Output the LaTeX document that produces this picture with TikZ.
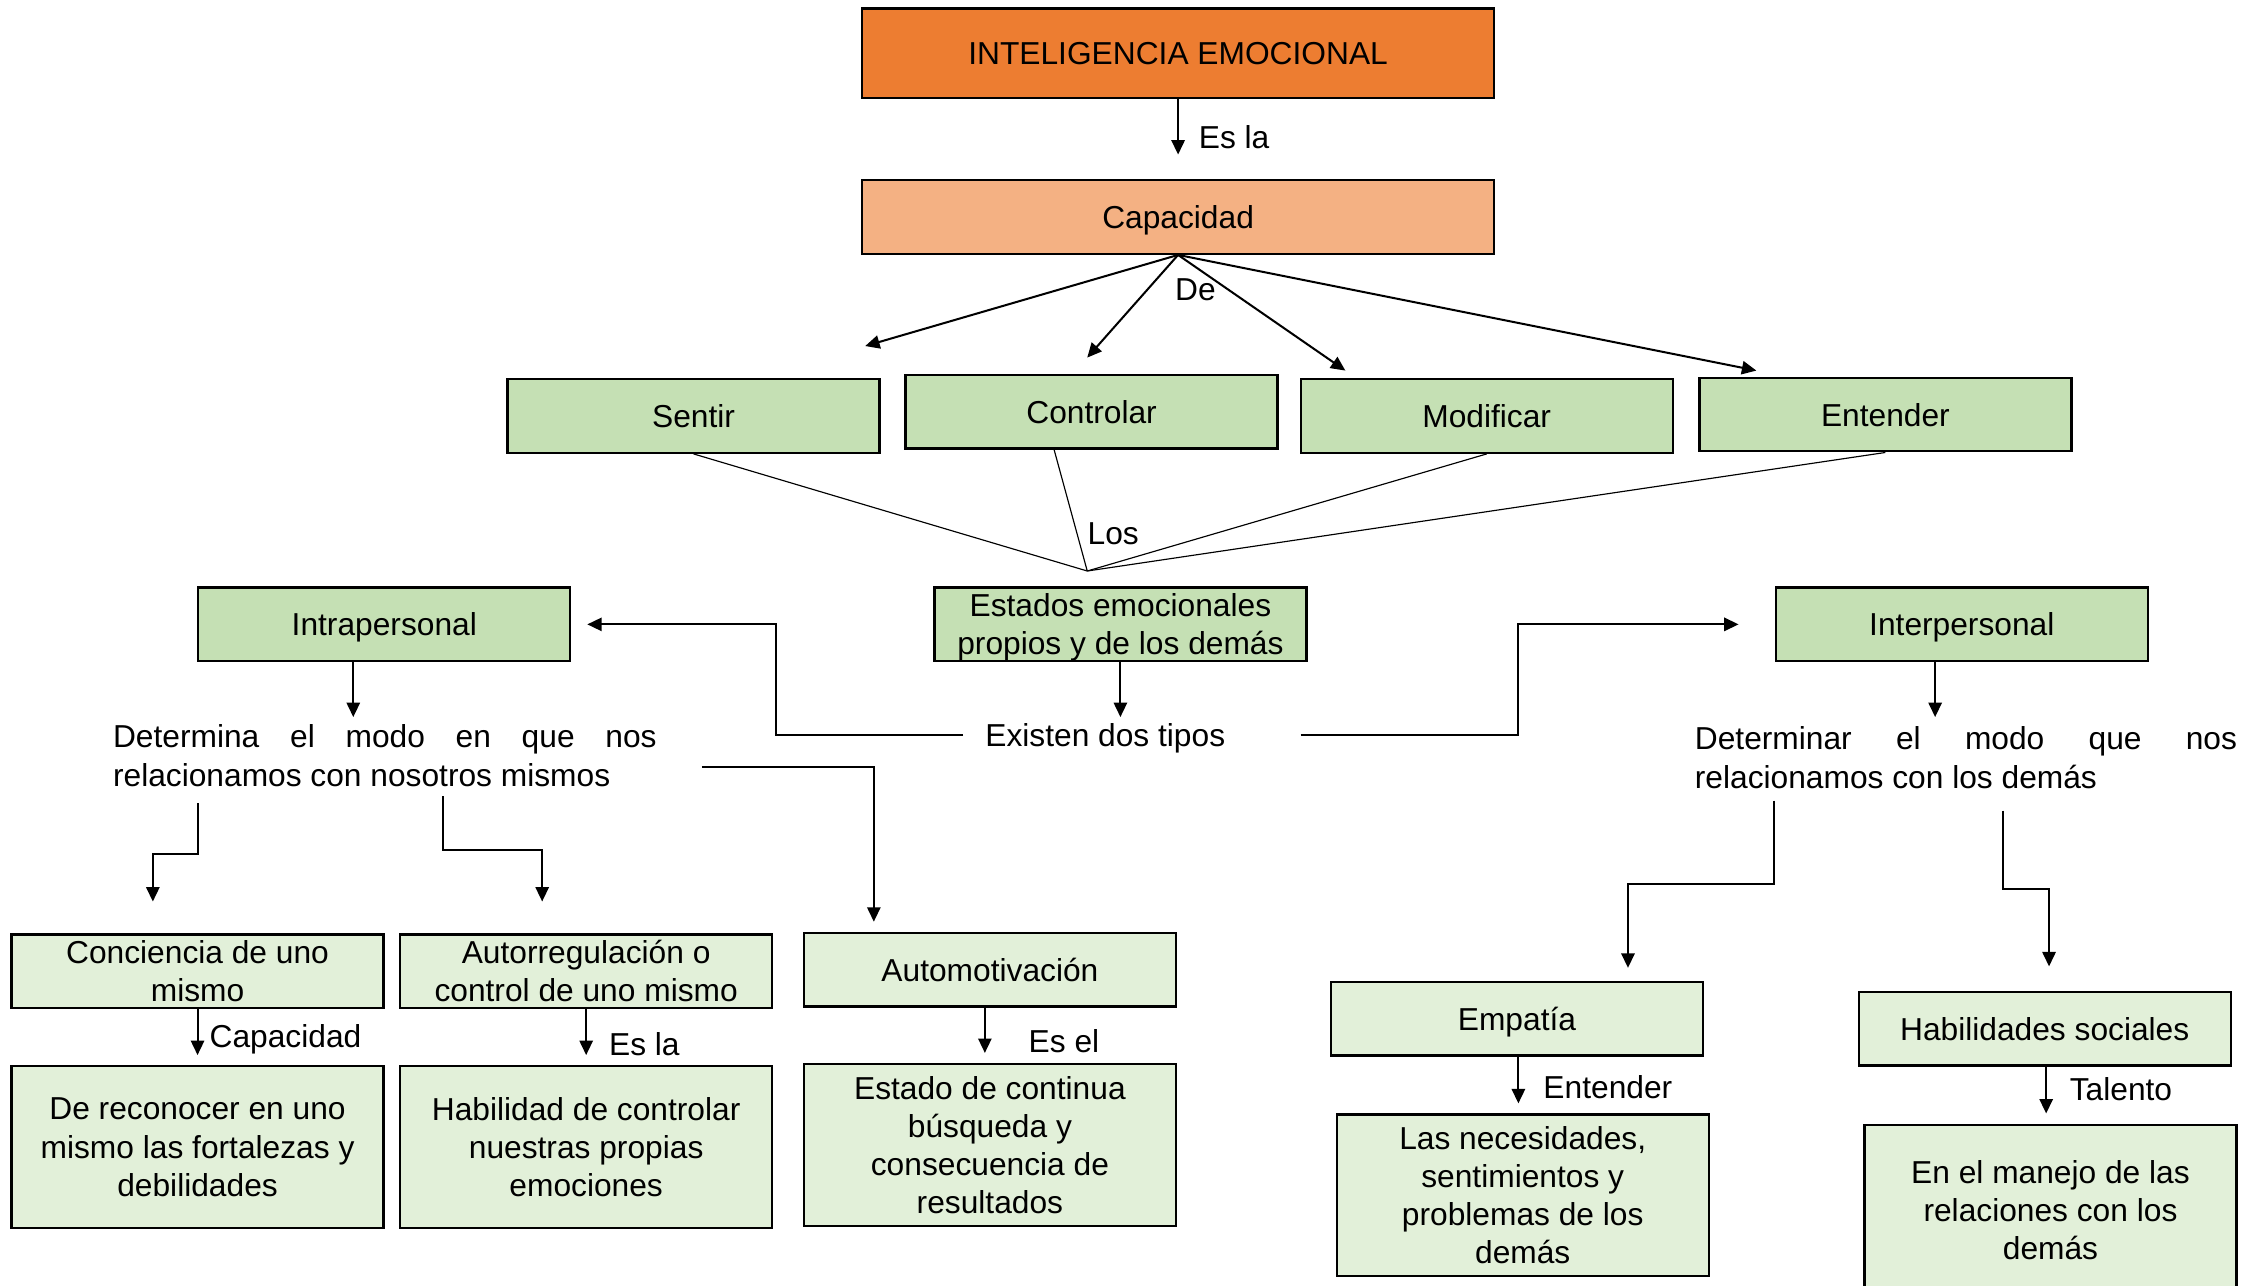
\documentclass[tikz,border=0pt]{standalone}
\usepackage{fontspec}
\setmainfont{Liberation Sans}
\usepackage{tikz}
\usetikzlibrary{arrows.meta, calc}
\definecolor{titlebg}{HTML}{ED7D31}
\definecolor{capbg}{HTML}{F4B183}
\definecolor{greenbg}{HTML}{C5E0B4}
\definecolor{palebg}{HTML}{E2F0D9}

\begin{document}
\begin{tikzpicture}[x=0.5pt, y=-0.5pt,
    box/.style={rectangle, draw, line width=0.8pt, minimum width=129pt, minimum height=25.5pt, inner sep=1pt, text depth=0pt, align=center, font=\fontsize{11}{13.2}\selectfont},
    tallbox/.style={box, minimum height=56pt},
    txt/.style={inner sep=0pt, align=left, font=\fontsize{11}{13.5}\selectfont},
    arrow/.style={-{Triangle[length=5pt,width=4.6pt]}, line width=0.7pt},
    thin/.style={line width=0.4pt}
]
\useasboundingbox (0,0) rectangle (1568,891.8);

% top
\node[box, fill=titlebg, minimum width=219pt, minimum height=31pt] (emo) at (817,37) {INTELIGENCIA EMOCIONAL};
\node[box, fill=capbg, minimum width=219pt] (cap) at (817,150.5) {Capacidad};

\node[box, fill=greenbg] (sentir) at (481,288.5) {Sentir};
\node[box, fill=greenbg] (controlar) at (757,285.5) {Controlar};
\node[box, fill=greenbg] (modificar) at (1031,288.5) {Modificar};
\node[box, fill=greenbg] (entender) at (1307.5,287.5) {Entender};

\node[box, fill=greenbg] (estados) at (777,433) {Estados emocionales\\propios y de los demás};
\node[box, fill=greenbg] (intra) at (266.5,433) {Intrapersonal};
\node[box, fill=greenbg] (inter) at (1360.5,433) {Interpersonal};

\node[txt] (tipos) at (766.5,512) {Existen dos tipos};
\node[txt, anchor=west] (detintra) at (78,524) {\makebox[188.5pt][s]{Determina el modo en que nos}\\relacionamos con nosotros mismos};
\node[txt, anchor=west] (detinter) at (1175,525.5) {\makebox[188pt][s]{Determinar el modo que nos}\\relacionamos con los demás};

% intrapersonal
\node[box, fill=palebg] (conc) at (137,673.5) {Conciencia de uno\\mismo};
\node[box, fill=palebg] (autoreg) at (406.5,673.5) {Autorregulación o\\control de uno mismo};
\node[box, fill=palebg] (automot) at (686.5,672.5) {Automotivación};
\node[tallbox, fill=palebg] (reconocer) at (137,795.5) {De reconocer en uno\\mismo las fortalezas y\\debilidades};
\node[tallbox, fill=palebg] (habilidad) at (406.5,795.5) {Habilidad de controlar\\nuestras propias\\emociones};
\node[tallbox, fill=palebg] (estado) at (686.5,794) {Estado de continua\\búsqueda y\\consecuencia de\\resultados};

% interpersonal
\node[box, fill=palebg] (empatia) at (1052,706.5) {Empatía};
\node[tallbox, fill=palebg] (necesidades) at (1056,829) {Las necesidades,\\sentimientos y\\problemas de los\\demás};
\node[box, fill=palebg] (habsoc) at (1418,713.5) {Habilidades sociales};
\node[tallbox, fill=palebg, minimum height=59pt] (manejo) at (1422,839) {En el manejo de las\\relaciones con los\\demás};

% labels
\node[txt, anchor=west] (lesla) at (831,95) {Es la};
\node[txt] (lde) at (829,201) {De};
\node[txt] (llos) at (772,370) {Los};
\node[txt, anchor=west] (lcapac) at (145,721) {Capacidad};
\node[txt, anchor=west] (lesla2) at (422,724) {Es la};
\node[txt, anchor=west] (lesel) at (713,722) {Es el};
\node[txt, anchor=west] (lentender) at (1070,754) {Entender};
\node[txt, anchor=west] (ltalento) at (1435,755) {Talento};

\coordinate (desentir) at (600,240);
\coordinate (decontrolar) at (754,248);
\coordinate (demodificar) at (933,257);
\coordinate (deentender) at (1218,257);
\coordinate (los) at (754,396);

\draw[arrow, shorten >=8.5pt] (emo) -- (cap);
\draw[arrow] (cap.south) -- (desentir);
\draw[arrow] (cap.south) -- (decontrolar);
\draw[arrow] (cap.south) -- (demodificar);
\draw[arrow] (cap.south) -- (deentender);

\draw[thin] (sentir.south) -- (los);
\draw[thin] ($(controlar.south)+(-26,0)$) -- (los);
\draw[thin] (modificar.south) -- (los);
\draw[thin] (entender.south) -- (los);

\draw[arrow] (estados.south) -- ++(0,38);
\draw[arrow] ($(tipos.west)+(-15,-2)$) -- ++(-130,0) |- ($(intra.east)+(11,0)$);
\draw[arrow] ($(tipos.east)+(52,-2)$) -- ++(151,0) |- ($(inter.west)+(-25,0)$);

\draw[arrow] ($(intra.south)+(-21.5,0)$) -- ++(0,38);
\draw[arrow] ($(conc.north)+(0,-90)$) -- ++(0,35) -| ($(conc.north)+(-31,-22)$);
\draw[arrow] ($(autoreg.north)+(-99.5,-95)$) -- ++(0,37) -| ($(autoreg.north)+(-30.5,-22)$);
\draw[arrow] ($(detintra.east)+(31,8)$) -| ($(automot.north)+(-80.5,-7)$);

\draw[arrow, shorten >=3.5pt] (conc) -- (reconocer);
\draw[arrow, shorten >=3.5pt] (autoreg) -- (habilidad);
\draw[arrow] ($(automot.south)+(-3.5,0)$) -- ($(estado.north)+(-3.5,-7)$);

\draw[arrow] ($(inter.south)+(-18.5,0)$) -- ++(0,38);
\draw[arrow] ($(empatia.north)+(178,-125)$) -- ++(0,58) -| ($(empatia.north)+(77,-9)$);
\draw[arrow] ($(habsoc.north)+(-29,-125)$) -- ++(0,54) -| ($(habsoc.north)+(3,-17)$);

\draw[arrow] ($(empatia.south)+(1,0)$) -- ($(necesidades.north)+(-3,-7)$);
\draw[arrow] ($(habsoc.south)+(1,0)$) -- ($(manejo.north)+(-3,-7)$);

\end{tikzpicture}
\end{document}
